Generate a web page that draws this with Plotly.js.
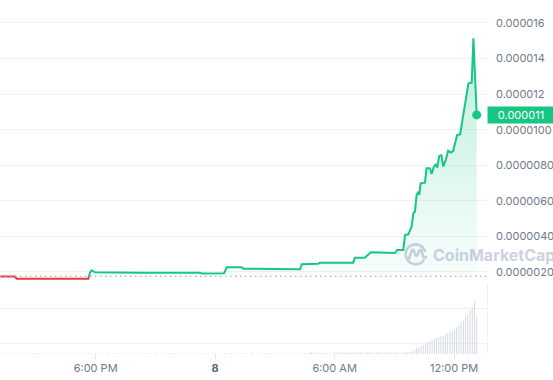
<!DOCTYPE html>
<html><head><meta charset="utf-8">
<script src="https://cdn.plot.ly/plotly-3.0.1.min.js"></script>
<style>html,body{margin:0;padding:0;background:#fff;}#chart{width:553px;height:380px;}</style>
</head><body><div id="chart"></div>
<script>
// Time origin of the data (UTC) and minutes after it for each price point
const startUTC = Date.UTC(2024, 4, 7, 13, 12);
const priceMinutes = [0,45,50,266,271,276,286,422,602,608,675,683,728,733,798,803,904,909,959,964,1064,1069,1099,1117,1170,1177,1190,1196,1215,1220,1230,1240,1245,1250,1255,1260,1263,1267,1280,1285,1295,1300,1307,1313,1317,1323,1330,1335,1343,1350,1358,1365,1377,1386,1394,1401,1404,1411,1421,1426,1436];
// price in units of 1e-6
const priceValues = [1.74,1.74,1.624,1.624,1.961,2.096,1.983,1.961,1.961,1.916,1.927,2.264,2.264,2.186,2.186,2.152,2.152,2.433,2.467,2.523,2.523,2.804,2.804,3.108,3.108,3.068,3.068,3.237,3.237,4.08,4.12,4.547,5.30,5.39,6.33,6.515,6.33,6.987,7.02,7.83,7.83,7.51,7.92,8.07,7.865,8.52,8.56,7.92,8.30,8.82,8.71,8.80,9.70,9.74,10.64,11.58,11.80,12.61,12.64,15.14,10.83];
const openPrice = 1.75; // reference (dotted) line, 1e-6
// volume bars (relative units), one every volStepMin minutes ending at the last price point
const volStepMin = 6.72;
const volumeValues = [
0.8,0.8,0,0.7,0.8,0,0.8,0.8,0.6,0,
0.8,0.7,0,0.8,0,0.8,0.8,0,0.7,0.8,
0,0.8,0.8,0,0.7,0,0.8,0.8,0,0.8,
0.7,0,0.8,0.8,0,0.8,0,0.7,0.8,0,
0.8,0.8,0,0.7,0.8,0,0.8,0,0.8,0.7,
0,0.8,0.8,0,0.8,0.7,0,0.8,0,0.8,
0.8,0,0.7,0.8,0,0.8,0.8,0,0.7,0,
0.8,0.8,0,0.8,0.7,0,0.8,0.8,0,0.7,
0.8,0,0.8,0.8,0,0.7,0,0.8,0.8,0,
0.8,0.7,0,0.8,0.8,0,0.7,0.8,0,0.8,
0,0.8,0.7,0,0.8,0.8,0,0.8,0.7,0,
0.8,0.8,0,0.7,0.8,0,0.8,0,0.8,0.8,
0,0.7,0.8,0,0.8,0.8,0,0.7,0.8,0,
0.8,0.8,0,0.7,0.8,0,0.8,0.8,0.7,
1,2,2.2,1.5,1,0.8,1,0.8,1,0.8,1,1.8,1.5,1.2,1.5,1.8,1.5,1.2,1.5,
1.5,1.6,1.5,1.7,1.5,1.6,1.5,1.5,1.7,1.5,1.6,1.5,1.5,1.6,1.5,1.7,1.5,1.6,1.5,1.5,1.6,1.5,1.6,1.5,1.7,
1.2,1.5,
2.3,4.3,5.7,6.7,7.7,9,10,11.7,13.3,14.3,15,16,17,17.7,18.3,19.3,20.7,22.3,23.3,24,26.7,28.3,31.7,33.3,37.3,39.3,44,46.7,52.3,36.7];
// y-axis ticks
const yTickVals = [2,4,6,8,10,12,14,16];
const yTickText = ['0.0000020','0.0000040','0.0000060','0.0000080','0.0000100','0.000012','0.000014','0.000016'];
// x-axis ticks (UTC)
const xTickVals = [Date.UTC(2024,4,7,18,0), Date.UTC(2024,4,8,0,0), Date.UTC(2024,4,8,6,0), Date.UTC(2024,4,8,12,0)];
const xTickText = ['6:00 PM','<b style="color:#58667e">8</b>','6:00 AM','12:00 PM'];

const GREEN = '#16c784', RED = '#ea3943';
const E = 1e-6;
const tOf = m => startUTC + m * 60000;
const px = priceMinutes.map(tOf);
const py = priceValues.map(v => v * E);

// split the line where it crosses the reference price
let k = priceValues.findIndex(v => v >= openPrice);
const m0 = priceMinutes[k-1], m1 = priceMinutes[k], v0 = priceValues[k-1], v1 = priceValues[k];
const mc = m0 + (m1 - m0) * (openPrice - v0) / (v1 - v0);
const redX = px.slice(0, k).concat([tOf(mc)]);
const redY = py.slice(0, k).concat([openPrice * E]);
const grnX = [tOf(mc)].concat(px.slice(k));
const grnY = [openPrice * E].concat(py.slice(k));

const lastM = priceMinutes[priceMinutes.length - 1];
const volX = volumeValues.map((v, i) => tOf(lastM - (volumeValues.length - 1 - i) * volStepMin));
const lastV = priceValues[priceValues.length - 1];

const traces = [
  {type:'bar', x: volX, y: volumeValues, xaxis:'x', yaxis:'y2', marker:{color:'#cbd2df', line:{width:0}}, width: 150000, hoverinfo:'skip'},
  {type:'scatter', mode:'lines', x:[grnX[0], grnX[grnX.length-1]], y:[openPrice*E, openPrice*E], line:{width:0, color:'rgba(0,0,0,0)'}, hoverinfo:'skip', showlegend:false},
  {type:'scatter', mode:'lines', x: grnX, y: grnY, line:{color:GREEN, width:2}, fill:'tonexty',
   fillgradient:{type:'vertical', start: openPrice*E, stop: 15*E, colorscale:[[0,'rgba(22,199,132,0.03)'],[1,'rgba(22,199,132,0.28)']]}},
  {type:'scatter', mode:'lines', x: redX, y: redY, line:{color:RED, width:2}},
  {type:'scatter', mode:'markers', x:[px[px.length-1]], y:[py[py.length-1]], marker:{color:GREEN, size:9}, cliponaxis:false}
];

const wm = "<svg xmlns='http://www.w3.org/2000/svg' width='150' height='28' viewBox='0 0 150 28'>" +
  "<g fill='none' stroke='#ccd2e0' stroke-width='2.6' stroke-linecap='round' stroke-linejoin='round'>" +
  "<path d='M20.5 20.5 A10 10 0 1 1 22 11'/>" +
  "<path d='M6 19 L8.5 11 Q9.5 8.5 11 11 L12.5 15 Q13.5 17 14.5 15 L16 11 Q17.5 8.5 18.5 11 L20 16 Q21 19 23 17'/>" +
  "</g><text x='30' y='20.5' font-family='Inter, Roboto, sans-serif' font-weight='700' font-size='16' fill='#ccd2e0'>CoinMarketCap</text></svg>";

const layout = {
  width:553, height:380, margin:{l:0, r:66, t:0, b:26, pad:0},
  paper_bgcolor:'#ffffff', plot_bgcolor:'rgba(0,0,0,0)', showlegend:false,
  font:{family:'Inter, Roboto, sans-serif', size:11, color:'#707a8a'},
  xaxis:{type:'date', anchor:'y2', range:[startUTC, tOf(1467)], tickmode:'array', tickvals:xTickVals, ticktext:xTickText,
    ticks:'outside', ticklen:4, tickwidth:1, tickcolor:'#dfe3ea', showgrid:false, zeroline:false, showline:false,
    tickfont:{size:11, color:'#707a8a'}, fixedrange:true},
  yaxis:{domain:[0.195,1], range:[1.269*E, 17.293*E], side:'right', anchor:'x', tickmode:'array', tickvals:yTickVals.map(v=>v*E), ticktext:yTickText,
    showgrid:true, gridcolor:'#eff2f5', gridwidth:1, zeroline:false, showline:false, ticks:'', ticklabelstandoff:8,
    tickfont:{size:11, color:'#707a8a'}, fixedrange:true},
  yaxis2:{domain:[0, 71/354], range:[0,71], side:'right', anchor:'x', tick0:11, dtick:35, showticklabels:false,
    showgrid:true, gridcolor:'#eff2f5', zeroline:false, showline:true, linecolor:'#eff2f5', ticks:'', fixedrange:true},
  shapes:[{type:'line', xref:'paper', x0:0, x1:1, yref:'y', y0:openPrice*E, y1:openPrice*E, line:{color:'#a6adbf', width:1.4, dash:'1.4px,3.6px'}}],
  images:[{source:'data:image/svg+xml;charset=utf-8,' + encodeURIComponent(wm), xref:'paper', yref:'paper',
    x:403/487, y:(354-240)/354, sizex:150/487, sizey:28/354, sizing:'stretch', xanchor:'left', yanchor:'top', layer:'below'}],
  annotations:[{xref:'paper', x:1, xanchor:'left', yref:'y', y:lastV*E, yanchor:'middle', text:(lastV*E).toFixed(6),
    showarrow:false, bgcolor:GREEN, font:{color:'#ffffff', size:11}, width:64, borderpad:1, align:'center'}]
};
Plotly.newPlot('chart', traces, layout, {displayModeBar:false, staticPlot:true});
</script></body></html>
